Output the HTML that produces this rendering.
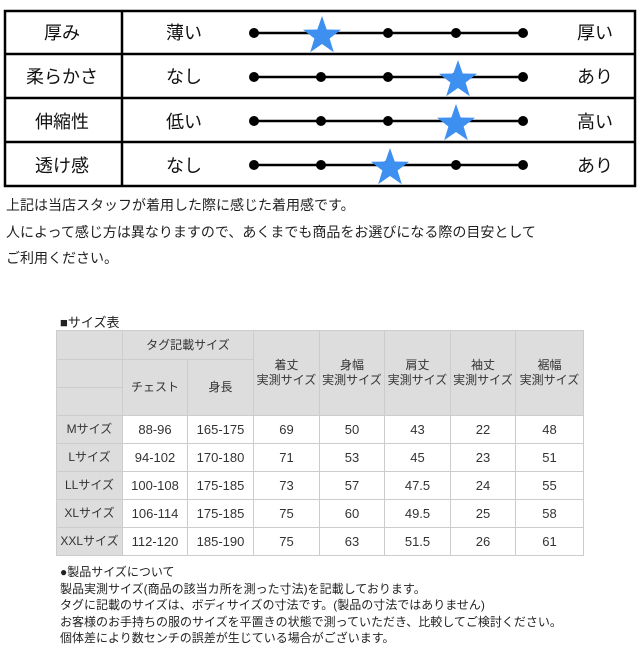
<!DOCTYPE html>
<html><head><meta charset="utf-8"><style>
body{margin:0;width:640px;height:640px;background:#fff;position:relative;overflow:hidden;font-family:"Liberation Sans","Noto Sans CJK JP",sans-serif;color:#222}
.a{position:absolute}
table{border-collapse:collapse;position:absolute;left:56px;top:330px;font-size:12px;color:#333}
td{border:1px solid #ccc;text-align:center;padding:0;line-height:15px}
td.d{font-size:13px}
.g{background:#ddd}
.n{font-size:12px;color:#222;position:absolute;left:60px;line-height:16.5px;top:564px}
</style></head><body>
<svg class="a" style="left:0;top:0" width="640" height="190">
<rect x="5" y="11" width="630" height="175" fill="none" stroke="#000" stroke-width="2.5"/>
<g stroke="#000" stroke-width="2.5"><line x1="5" y1="54" x2="635" y2="54"/><line x1="5" y1="98" x2="635" y2="98"/><line x1="5" y1="142" x2="635" y2="142"/><line x1="122" y1="11" x2="122" y2="186"/></g>
<g font-size="18" fill="#111" font-family="Liberation Sans,Noto Sans CJK JP,sans-serif">
<text x="62" y="39" text-anchor="middle">厚み</text><text x="62" y="83" text-anchor="middle">柔らかさ</text><text x="62" y="128" text-anchor="middle">伸縮性</text><text x="62" y="172" text-anchor="middle">透け感</text>
<text x="166" y="39">薄い</text><text x="166" y="83">なし</text><text x="166" y="128">低い</text><text x="166" y="172">なし</text>
<text x="577" y="39">厚い</text><text x="577" y="83">あり</text><text x="577" y="128">高い</text><text x="577" y="172">あり</text>
</g>
<defs><g id="r"><line x1="254" y1="0" x2="523" y2="0" stroke="#000" stroke-width="2.5"/><circle cx="254" r="5"/><circle cx="321" r="5"/><circle cx="388" r="5"/><circle cx="456" r="5"/><circle cx="523" r="5"/></g>
<polygon id="s" points="0,-20 4.7,-6.5 19,-6.2 7.6,2.5 11.8,16.2 0,8 -11.8,16.2 -7.6,2.5 -19,-6.2 -4.7,-6.5" fill="#3d8ff0"/></defs>
<use href="#r" y="33"/><use href="#r" y="77"/><use href="#r" y="121"/><use href="#r" y="165"/>
<use href="#s" x="322" y="36"/><use href="#s" x="458" y="80"/><use href="#s" x="456" y="124"/><use href="#s" x="390" y="168"/>
</svg>
<div class="a" style="left:6px;top:192px;font-size:14px;line-height:26.5px;color:#222">上記は当店スタッフが着用した際に感じた着用感です。<br>人によって感じ方は異なりますので、あくまでも商品をお選びになる際の目安として<br>ご利用ください。</div>
<div class="a" style="left:60px;top:312px;font-size:13px">■サイズ表</div>
<table>
<tr style="height:29px"><td class="g" style="width:65px"></td><td class="g" colspan="2">タグ記載サイズ</td><td class="g" rowspan="3" style="width:65px">着丈<br>実測サイズ</td><td class="g" rowspan="3" style="width:64px">身幅<br>実測サイズ</td><td class="g" rowspan="3" style="width:65px">肩丈<br>実測サイズ</td><td class="g" rowspan="3" style="width:64px">袖丈<br>実測サイズ</td><td class="g" rowspan="3" style="width:67px">裾幅<br>実測サイズ</td></tr>
<tr style="height:28px"><td class="g"></td><td class="g" rowspan="2" style="width:64px">チェスト</td><td class="g" rowspan="2" style="width:65px">身長</td></tr>
<tr style="height:28px"><td class="g"></td></tr>
<tr style="height:28px"><td class="g">Mサイズ</td><td class="d">88-96</td><td class="d">165-175</td><td class="d">69</td><td class="d">50</td><td class="d">43</td><td class="d">22</td><td class="d">48</td></tr>
<tr style="height:28px"><td class="g">Lサイズ</td><td class="d">94-102</td><td class="d">170-180</td><td class="d">71</td><td class="d">53</td><td class="d">45</td><td class="d">23</td><td class="d">51</td></tr>
<tr style="height:28px"><td class="g">LLサイズ</td><td class="d">100-108</td><td class="d">175-185</td><td class="d">73</td><td class="d">57</td><td class="d">47.5</td><td class="d">24</td><td class="d">55</td></tr>
<tr style="height:28px"><td class="g">XLサイズ</td><td class="d">106-114</td><td class="d">175-185</td><td class="d">75</td><td class="d">60</td><td class="d">49.5</td><td class="d">25</td><td class="d">58</td></tr>
<tr style="height:28px"><td class="g">XXLサイズ</td><td class="d">112-120</td><td class="d">185-190</td><td class="d">75</td><td class="d">63</td><td class="d">51.5</td><td class="d">26</td><td class="d">61</td></tr>
</table>
<div class="n">●製品サイズについて<br>製品実測サイズ(商品の該当カ所を測った寸法)を記載しております。<br>タグに記載のサイズは、ボディサイズの寸法です。(製品の寸法ではありません)<br>お客様のお手持ちの服のサイズを平置きの状態で測っていただき、比較してご検討ください。<br>個体差により数センチの誤差が生じている場合がございます。</div>
</body></html>
